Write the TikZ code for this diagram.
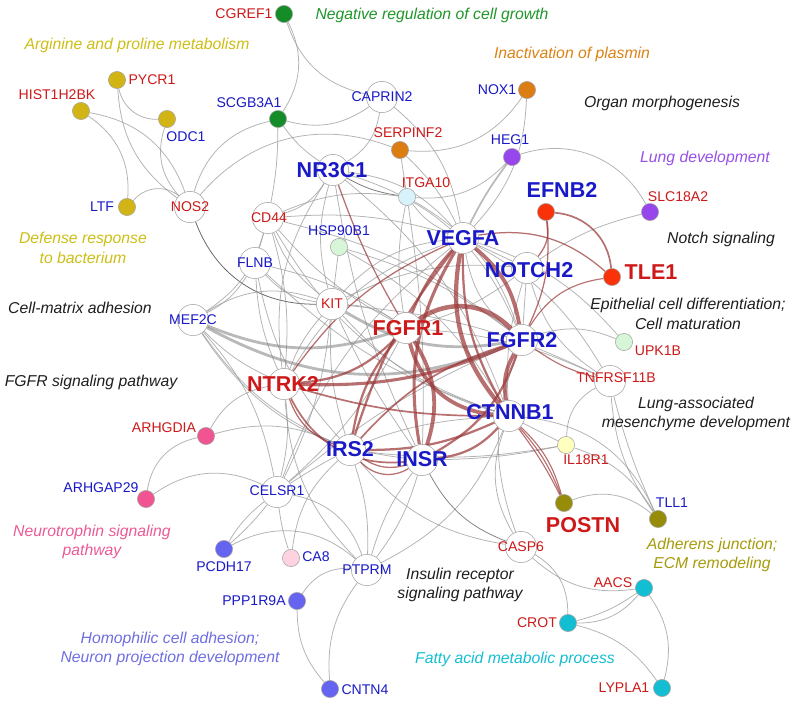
\documentclass[tikz,border=0pt]{standalone}
\usepackage{fontspec}
\setmainfont{Liberation Sans}
\usepackage{xcolor}
\usepackage{tikz}
\usetikzlibrary{backgrounds}

\definecolor{tred}{RGB}{205,25,25}
\definecolor{tblue}{RGB}{25,25,200}
\definecolor{lnkred}{RGB}{155,55,55}
\definecolor{cgreen}{RGB}{20,140,40}
\definecolor{cgold}{RGB}{210,180,20}
\definecolor{corange}{RGB}{220,125,20}
\definecolor{cpurple}{RGB}{150,70,235}
\definecolor{cred}{RGB}{250,50,10}
\definecolor{ccyanl}{RGB}{215,242,250}
\definecolor{cgreenl}{RGB}{215,245,215}
\definecolor{cyell}{RGB}{255,255,190}
\definecolor{colive}{RGB}{150,140,10}
\definecolor{cpink}{RGB}{240,85,145}
\definecolor{cviolet}{RGB}{100,100,240}
\definecolor{cpinkl}{RGB}{255,210,225}
\definecolor{ccyan}{RGB}{20,190,210}
\definecolor{kgreen}{RGB}{30,150,40}
\definecolor{kgold}{RGB}{205,190,20}
\definecolor{korange}{RGB}{220,130,20}
\definecolor{kpurple}{RGB}{150,80,230}
\definecolor{kolive}{RGB}{165,155,10}
\definecolor{kpink}{RGB}{235,90,150}
\definecolor{kviolet}{RGB}{110,110,225}
\definecolor{kblack}{RGB}{30,30,30}

\begin{document}
\begin{tikzpicture}[x=0.025cm,y=-0.025cm]
\tikzstyle{every node}+=[inner sep=0pt]
\tikzstyle{hub}=[circle,draw=black!35,fill=white,minimum size=0.78cm]
\tikzstyle{dot}=[circle,draw=black!35,minimum size=0.43cm]
\tikzstyle{sm}=[font=\fontsize{10}{12}\selectfont]
\tikzstyle{big}=[font=\fontsize{15.3}{18}\selectfont\bfseries]
\tikzstyle{cat}=[font=\fontsize{11.2}{14}\selectfont\itshape,align=center]
\tikzstyle{ln}=[draw=black!40,line width=0.55pt,opacity=0.75]
\tikzstyle{thk}=[draw=black!55,line width=2pt,opacity=0.5]
\tikzstyle{rd}=[draw=lnkred,line width=0.9pt,opacity=0.72]
\useasboundingbox (0,0) rectangle (800,705);

% white genes
\node[hub] (NR3C1) at (333,170) {};
\node[hub] (CAPRIN2) at (382,97) {};
\node[hub] (NOS2) at (190,207) {};
\node[hub] (CD44) at (268,218) {};
\node[hub] (FLNB) at (255,263) {};
\node[hub] (KIT) at (332,304) {};
\node[hub] (MEF2C) at (193,320) {};
\node[hub] (NTRK2) at (284,384) {};
\node[hub] (FGFR1) at (406,328) {};
\node[hub] (VEGFA) at (463,238) {};
\node[hub] (NOTCH2) at (527,268) {};
\node[hub] (FGFR2) at (522,340) {};
\node[hub] (CTNNB1) at (509,416) {};
\node[hub] (IRS2) at (350,450) {};
\node[hub] (INSR) at (422,460) {};
\node[hub] (CELSR1) at (277,492) {};
\node[hub] (PTPRM) at (367,570) {};
\node[hub] (CASP6) at (521,547) {};
\node[hub] (TNFRSF11B) at (610,381) {};

% coloured genes
\node[dot,fill=cgreen] (CGREF1) at (284,14) {};
\node[dot,fill=cgreen] (SCGB3A1) at (278,119) {};
\node[dot,fill=cgold] (PYCR1) at (117,80) {};
\node[dot,fill=cgold] (HIST1H2BK) at (81,111) {};
\node[dot,fill=cgold] (ODC1) at (167,119) {};
\node[dot,fill=cgold] (LTF) at (127,207) {};
\node[dot,fill=corange] (SERPINF2) at (400,150) {};
\node[dot,fill=corange] (NOX1) at (527,90) {};
\node[dot,fill=cpurple] (HEG1) at (512,157) {};
\node[dot,fill=cpurple] (SLC18A2) at (650,212) {};
\node[dot,fill=cred] (EFNB2) at (546,212) {};
\node[dot,fill=cred] (TLE1) at (612,277) {};
\node[dot,fill=ccyanl] (ITGA10) at (407,197) {};
\node[dot,fill=cgreenl] (HSP90B1) at (339,247) {};
\node[dot,fill=cgreenl] (UPK1B) at (624,342) {};
\node[dot,fill=cyell] (IL18R1) at (566,445) {};
\node[dot,fill=colive] (POSTN) at (564,503) {};
\node[dot,fill=colive] (TLL1) at (658,519) {};
\node[dot,fill=cpink] (ARHGDIA) at (206,436) {};
\node[dot,fill=cpink] (ARHGAP29) at (146,499) {};
\node[dot,fill=cviolet] (PCDH17) at (224,549) {};
\node[dot,fill=cpinkl] (CA8) at (291,558) {};
\node[dot,fill=cviolet] (PPP1R9A) at (297,601) {};
\node[dot,fill=cviolet] (CNTN4) at (330,689) {};
\node[dot,fill=ccyan] (AACS) at (644,588) {};
\node[dot,fill=ccyan] (CROT) at (568,623) {};
\node[dot,fill=ccyan] (LYPLA1) at (662,688) {};

\begin{scope}[on background layer]
% grey links
\draw[ln] (CGREF1) to[bend left=30] (SCGB3A1);
\draw[ln] (CGREF1) to[bend right=30] (CAPRIN2);
\draw[ln] (SCGB3A1) to[bend right=25] (CAPRIN2);
\draw[ln] (SCGB3A1) to[bend right=30] (NOS2);
\draw[ln] (SCGB3A1) to[bend left=5] (CD44);
\draw[ln] (SCGB3A1) to[bend right=10] (NR3C1);
\draw[ln] (PYCR1) to[bend right=40] (ODC1);
\draw[ln] (PYCR1) to[bend right=25] (NOS2);
\draw[ln] (HIST1H2BK) to[bend left=30] (NOS2);
\draw[ln] (HIST1H2BK) to[bend left=30] (LTF);
\draw[ln] (ODC1) to[bend right=30] (NOS2);
\draw[ln] (LTF) to[bend left=45] (NOS2);
\draw[ln] (NOS2) to[bend left=35] (SERPINF2);
\draw[ln,draw=black!80] (NOS2) to[bend right=35] (KIT);
\draw[ln] (CAPRIN2) to[bend left=25] (NR3C1);
\draw[ln] (CAPRIN2) to[bend left=20] (VEGFA);
\draw[ln] (SERPINF2) to[bend right=30] (NOX1);
\draw[ln] (SERPINF2) to[bend left=10] (VEGFA);
\draw[ln] (SERPINF2) to (ITGA10);
\draw[ln] (NOX1) to[bend left=20] (VEGFA);
\draw[thk,line width=1.2pt] (HEG1) to[bend right=5] (VEGFA);
\draw[ln] (HEG1) to[bend left=25] (ITGA10);
\draw[ln] (HEG1) to[bend left=40] (SLC18A2);
\draw[ln] (SLC18A2) to[bend right=10] (NOTCH2);
\draw[ln,draw=black!70] (NR3C1) to[bend right=10] (ITGA10);
\draw[ln] (NR3C1) to[bend left=20] (VEGFA);
\draw[ln] (NR3C1) to[bend left=20] (CD44);
\draw[ln] (NR3C1) to[bend right=15] (KIT);
\draw[ln] (NR3C1) to[bend left=25] (FGFR2);
\draw[ln] (NR3C1) to[bend right=20] (NTRK2);
\draw[ln] (NR3C1) to[bend left=15] (CTNNB1);
\draw[ln] (NR3C1) to[bend right=8] (INSR);
\draw[ln] (CD44) to[bend left=15] (ITGA10);
\draw[ln] (CD44) to[bend left=10] (VEGFA);
\draw[ln] (CD44) to[bend right=10] (FGFR1);
\draw[ln] (CD44) to (FLNB);
\draw[ln] (CD44) to[bend right=15] (KIT);
\draw[ln] (CD44) to[bend left=10] (NTRK2);
\draw[ln] (CD44) to[bend left=20] (MEF2C);
\draw[ln] (CD44) to[bend left=12] (FGFR2);
\draw[ln] (CD44) to[bend right=20] (CTNNB1);
\draw[ln] (ITGA10) to[bend right=15] (VEGFA);
\draw[ln] (ITGA10) to[bend left=5] (INSR);
\draw[ln] (ITGA10) to[bend right=10] (FGFR1);
\draw[ln] (ITGA10) to[bend left=20] (FGFR2);
\draw[ln] (HSP90B1) to (KIT);
\draw[ln] (HSP90B1) to[bend left=15] (CTNNB1);
\draw[ln] (HSP90B1) to[bend left=10] (FGFR2);
\draw[ln] (FLNB) to[bend right=20] (KIT);
\draw[ln] (FLNB) to[bend left=15] (MEF2C);
\draw[ln] (FLNB) to[bend right=10] (NTRK2);
\draw[ln] (FLNB) to[bend left=10] (FGFR1);
\draw[ln] (FLNB) to[bend right=15] (IRS2);
\draw[ln] (FLNB) to[bend right=12] (CTNNB1);
\draw[thk] (MEF2C) to[bend right=20] (FGFR1);
\draw[thk] (MEF2C) to[bend right=25] (FGFR2);
\draw[ln] (MEF2C) to[bend right=10] (NTRK2);
\draw[ln] (MEF2C) to[bend right=15] (IRS2);
\draw[ln] (MEF2C) to[bend right=25] (INSR);
\draw[ln] (MEF2C) to[bend left=15] (CELSR1);
\draw[ln] (MEF2C) to[bend left=25] (KIT);
\draw[thk] (KIT) to[bend right=20] (FGFR2);
\draw[ln] (KIT) to[bend right=10] (NTRK2);
\draw[ln] (KIT) to[bend right=10] (IRS2);
\draw[ln] (KIT) to[bend right=15] (CTNNB1);
\draw[ln] (KIT) to[bend right=5] (INSR);
\draw[ln] (KIT) to[bend left=10] (CELSR1);
\draw[ln] (KIT) to[bend left=15] (FGFR1);
\draw[ln] (KIT) to[bend left=20] (VEGFA);
\draw[ln] (KIT) to[bend left=10] (TNFRSF11B);
\draw[ln] (KIT) to[bend left=15] (NOTCH2);
\draw[ln] (NTRK2) to[bend right=25] (ARHGDIA);
\draw[ln] (ARHGDIA) to[bend right=35] (ARHGAP29);
\draw[ln] (ARHGDIA) to[bend left=20] (IRS2);
\draw[ln] (ARHGAP29) to[bend left=30] (CELSR1);
\draw[ln] (NTRK2) to[bend left=10] (CELSR1);
\draw[ln] (NTRK2) to[bend right=20] (PTPRM);
\draw[ln] (NTRK2) to[bend left=20] (VEGFA);
\draw[ln] (CELSR1) to[bend right=10] (PCDH17);
\draw[ln] (CELSR1) to[bend left=5] (PCDH17);
\draw[ln] (CELSR1) to[bend right=5] (CA8);
\draw[ln] (CELSR1) to[bend left=30] (PTPRM);
\draw[ln] (CELSR1) to[bend right=10] (FGFR1);
\draw[ln] (CELSR1) to[bend left=15] (VEGFA);
\draw[ln] (CELSR1) to[bend left=15] (CTNNB1);
\draw[ln] (CELSR1) to[bend left=8] (FGFR2);
\draw[ln] (PCDH17) to[bend left=35] (PTPRM);
\draw[ln] (CA8) to[bend left=20] (IRS2);
\draw[ln] (PTPRM) to[bend right=30] (PPP1R9A);
\draw[ln] (PTPRM) to[bend right=20] (CNTN4);
\draw[ln] (PPP1R9A) to[bend right=20] (CNTN4);
\draw[ln] (PTPRM) to[bend right=10] (INSR);
\draw[ln] (PTPRM) to[bend left=10] (INSR);
\draw[ln] (PTPRM) to[bend right=10] (IRS2);
\draw[ln] (PTPRM) to[bend right=20] (CTNNB1);
\draw[ln,draw=black!65] (INSR) to[bend right=20] (CASP6);
\draw[ln] (IRS2) to[bend right=20] (CASP6);
\draw[ln] (CASP6) to[bend left=25] (CTNNB1);
\draw[ln] (CASP6) to[bend left=20] (FGFR2);
\draw[ln] (CASP6) to[bend left=30] (CROT);
\draw[ln] (CASP6) to[bend right=25] (AACS);
\draw[ln] (CROT) to[bend right=25] (AACS);
\draw[ln] (CROT) to[bend right=10] (AACS);
\draw[ln] (CROT) to[bend left=20] (LYPLA1);
\draw[ln] (AACS) to[bend left=25] (LYPLA1);
\draw[ln] (POSTN) to[bend left=30] (TLL1);
\draw[ln] (TLL1) to[bend left=15] (TNFRSF11B);
\draw[ln] (TLL1) to[bend left=5] (TNFRSF11B);
\draw[ln] (TLL1) to[bend right=20] (IL18R1);
\draw[ln] (IL18R1) to[bend left=30] (TNFRSF11B);
\draw[ln] (CTNNB1) to[bend left=30] (TLL1);
\draw[ln] (IL18R1) to (CTNNB1);
\draw[ln] (IL18R1) to[bend left=8] (IRS2);
\draw[ln] (IL18R1) to[bend left=5] (INSR);
\draw[ln] (UPK1B) to[bend right=20] (FGFR2);
\draw[ln] (UPK1B) to[bend right=15] (VEGFA);
\draw[ln] (TNFRSF11B) to[bend right=15] (VEGFA);
\draw[ln] (TNFRSF11B) to[bend right=10] (FGFR1);
\draw[ln] (FGFR2) to (NOTCH2);
\draw[ln] (VEGFA) to (NOTCH2);
\draw[ln] (NOTCH2) to[bend right=10] (CTNNB1);
\draw[ln] (VEGFA) to[bend right=20] (FGFR2);
\draw[ln] (NOTCH2) to[bend left=10] (FGFR1);
\draw[ln] (NOTCH2) to[bend right=20] (TNFRSF11B);
% red links
\draw[rd] (NR3C1) to[bend right=5] (FGFR1);
\draw[rd,line width=3.2pt] (FGFR1) to[bend left=40] (FGFR2);
\draw[rd,line width=2.7pt] (FGFR1) to[bend right=35] (CTNNB1);
\draw[rd,line width=2.7pt] (FGFR1) to[bend left=25] (INSR);
\draw[rd,line width=1.6pt] (FGFR1) to[bend right=15] (IRS2);
\draw[rd,line width=1.6pt] (NTRK2) to[bend right=20] (FGFR1);
\draw[rd,line width=1.6pt] (VEGFA) to[bend right=10] (FGFR1);
\draw[rd,line width=3pt] (VEGFA) to[bend right=25] (CTNNB1);
\draw[rd,line width=1.6pt] (VEGFA) to[bend right=15] (CTNNB1);
\draw[rd,line width=2.2pt] (VEGFA) to[bend right=20] (INSR);
\draw[rd,line width=1.6pt] (VEGFA) to[bend right=10] (IRS2);
\draw[rd,line width=2.7pt] (VEGFA) to[bend left=20] (FGFR2);
\draw[rd] (VEGFA) to[bend right=15] (NTRK2);
\draw[rd,line width=2.7pt] (FGFR2) to[bend right=20] (CTNNB1);
\draw[rd,line width=1.6pt] (FGFR2) to[bend left=20] (INSR);
\draw[rd,line width=1.2pt] (FGFR2) to[bend right=15] (IRS2);
\draw[rd,line width=2.2pt] (NTRK2) to[bend right=12] (FGFR2);
\draw[rd,line width=1.2pt] (NTRK2) to[bend right=8] (CTNNB1);
\draw[rd] (NTRK2) to[bend right=25] (IRS2);
\draw[rd,line width=1.2pt] (NTRK2) to[bend right=35] (INSR);
\draw[rd,line width=1.6pt] (CTNNB1) to[bend left=20] (INSR);
\draw[rd,line width=1.6pt] (CTNNB1) to[bend left=12] (IRS2);
\draw[rd] (IRS2) to[bend right=40] (INSR);
\draw[rd] (IRS2) to[bend right=25] (INSR);
\draw[rd,line width=1.2pt] (EFNB2) to[bend left=40] (TLE1);
\draw[rd] (EFNB2) to[bend left=25] (NOTCH2);
\draw[rd] (EFNB2) to[bend left=15] (FGFR2);
\draw[rd] (VEGFA) to[bend left=25] (TLE1);
\draw[rd,line width=0.8pt] (FGFR2) to[bend left=25] (TLE1);
\draw[rd,line width=0.8pt] (FGFR2) to[bend right=10] (TNFRSF11B);
\draw[rd,line width=0.8pt] (CTNNB1) to[bend left=10] (POSTN);
\draw[rd,line width=0.8pt] (CTNNB1) to[bend left=15] (POSTN);
\draw[rd,line width=0.8pt] (CTNNB1) to[bend left=5] (POSTN);
\end{scope}

% gene labels
\node[sm,text=tred] (lCGREF1) at (244,14) {CGREF1};
\node[sm,text=tred] (lPYCR1) at (152,80) {PYCR1};
\node[sm,text=tred] (lHIST1H2BK) at (57,95) {HIST1H2BK};
\node[sm,text=tblue] (lODC1) at (186,137) {ODC1};
\node[sm,text=tblue] (lLTF) at (102,207) {LTF};
\node[sm,text=tred] (lNOS2) at (190,207) {NOS2};
\node[sm,text=tblue] (lSCGB3A1) at (249,103) {SCGB3A1};
\node[sm,text=tblue] (lCAPRIN2) at (382,97) {CAPRIN2};
\node[sm,text=tred] (lSERPINF2) at (408,133) {SERPINF2};
\node[sm,text=tblue] (lNOX1) at (497,90) {NOX1};
\node[sm,text=tblue] (lHEG1) at (510,140) {HEG1};
\node[sm,text=tred] (lSLC18A2) at (678,197) {SLC18A2};
\node[sm,text=tred] (lITGA10) at (426,183) {ITGA10};
\node[sm,text=tblue] (lHSP90B1) at (339,231) {HSP90B1};
\node[sm,text=tred] (lCD44) at (269,218) {CD44};
\node[sm,text=tblue] (lFLNB) at (255,263) {FLNB};
\node[sm,text=tred] (lKIT) at (332,304) {KIT};
\node[sm,text=tblue] (lMEF2C) at (193,320) {MEF2C};
\node[sm,text=tred] (lUPK1B) at (658,351) {UPK1B};
\node[sm,text=tred] (lTNFRSF11B) at (616,378) {TNFRSF11B};
\node[sm,text=tred] (lIL18R1) at (586,460) {IL18R1};
\node[sm,text=tblue] (lTLL1) at (672,503) {TLL1};
\node[sm,text=tred] (lARHGDIA) at (164,428) {ARHGDIA};
\node[sm,text=tblue] (lARHGAP29) at (101,488) {ARHGAP29};
\node[sm,text=tblue] (lCELSR1) at (277,491) {CELSR1};
\node[sm,text=tblue] (lPCDH17) at (224,567) {PCDH17};
\node[sm,text=tblue] (lCA8) at (316,557) {CA8};
\node[sm,text=tblue] (lPTPRM) at (367,570) {PTPRM};
\node[sm,text=tblue] (lPPP1R9A) at (254,601) {PPP1R9A};
\node[sm,text=tblue] (lCNTN4) at (365,690) {CNTN4};
\node[sm,text=tred] (lCASP6) at (521,547) {CASP6};
\node[sm,text=tred] (lAACS) at (613,583) {AACS};
\node[sm,text=tred] (lCROT) at (537,623) {CROT};
\node[sm,text=tred] (lLYPLA1) at (624,688) {LYPLA1};
\node[big,text=tblue] (lNR3C1) at (332,170) {NR3C1};
\node[big,text=tblue] (lVEGFA) at (463,238) {VEGFA};
\node[big,text=tblue] (lEFNB2) at (562,190) {EFNB2};
\node[big,text=tblue] (lNOTCH2) at (529,270) {NOTCH2};
\node[big,text=tblue] (lFGFR2) at (522,340) {FGFR2};
\node[big,text=tblue] (lCTNNB1) at (510,412) {CTNNB1};
\node[big,text=tblue] (lIRS2) at (350,449) {IRS2};
\node[big,text=tblue] (lINSR) at (422,459) {INSR};
\node[big,text=tred] (lNTRK2) at (283,384) {NTRK2};
\node[big,text=tred] (lFGFR1) at (408,328) {FGFR1};
\node[big,text=tred] (lTLE1) at (651,272) {TLE1};
\node[big,text=tred] (lPOSTN) at (583,525) {POSTN};

% process labels
\node[cat,text=kgreen] (cGrowth) at (432,15) {Negative regulation of cell growth};
\node[cat,text=kgold] (cArginine) at (137,45) {Arginine and proline metabolism};
\node[cat,text=korange] (cPlasmin) at (572,54) {Inactivation of plasmin};
\node[cat,text=kblack] (cOrgan) at (662,103) {Organ morphogenesis};
\node[cat,text=kpurple] (cLung) at (705,158) {Lung development};
\node[cat,text=kblack] (cNotch) at (721,239) {Notch signaling};
\node[cat,text=kgold] (cDefense) at (83,248) {Defense response\\to bacterium};
\node[cat,text=kblack] (cMatrix) at (80,308) {Cell-matrix adhesion};
\node[cat,text=kblack] (cFGFR) at (91,382) {FGFR signaling pathway};
\node[cat,text=kblack] (cEpith) at (688,314) {Epithelial cell differentiation;\\Cell maturation};
\node[cat,text=kblack] (cMesen) at (696,414) {Lung-associated\\mesenchyme development};
\node[cat,text=kpink] (cNeuro) at (92,542) {Neurotrophin signaling\\pathway};
\node[cat,text=kviolet] (cHomo) at (170,649) {Homophilic cell adhesion;\\Neuron projection development};
\node[cat,text=kblack] (cInsulin) at (460,585) {Insulin receptor\\signaling pathway};
\node[cat,text=kolive] (cAdherens) at (712,555) {Adherens junction;\\ECM remodeling};
\node[cat,text=ccyan] (cFatty) at (515,659) {Fatty acid metabolic process};
\end{tikzpicture}
\end{document}
